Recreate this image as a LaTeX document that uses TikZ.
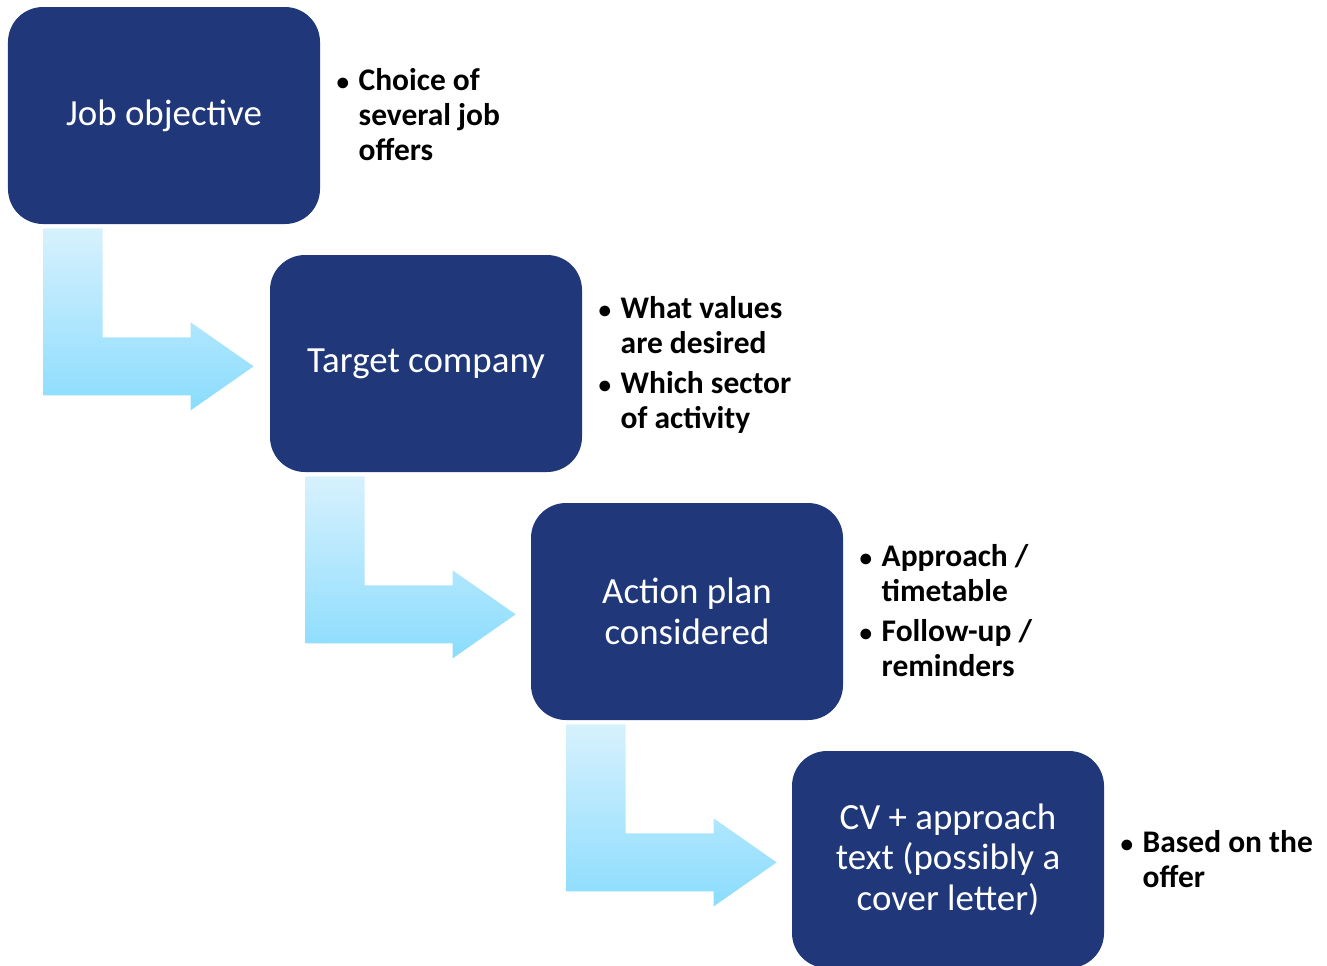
\documentclass[tikz,border=0pt]{standalone}
\usepackage{fontspec}
\setmainfont{Carlito}
\usetikzlibrary{positioning}
\definecolor{stageblue}{RGB}{32,56,121}
\definecolor{arrowtop}{RGB}{215,241,253}
\definecolor{arrowbottom}{RGB}{138,220,253}
\newcommand{\notedot}{\scalebox{0.8}{\textbullet}}

\begin{document}
\begin{tikzpicture}
    \tikzstyle{stage} = [shape=rectangle, rounded corners=0.7cm, fill=stageblue, text=white, align=center, minimum width=6.24cm, minimum height=4.34cm, font=\fontsize{21}{23.2}\selectfont]
    \tikzstyle{notes} = [inner sep=0, anchor=west, yshift=-0.06cm, font=\bfseries\fontsize{17.9}{19.9}\selectfont]

    \useasboundingbox (0, 0) rectangle (26.54, -19.30);

    \node[stage] (job)    at (3.28,  -2.31)  {Job objective};
    \node[stage] (target) at (8.52,  -7.27)  {Target company};
    \node[stage] (action) at (13.74, -12.23) {Action plan\\considered};
    \node[stage] (cv)     at (18.96, -17.19) {CV + approach\\text (possibly a\\cover letter)};

        \node[notes, right=0.32cm of job] (jobnotes) {\begin{tabular}{@{}p{0.44cm}@{}l@{}}
            \notedot & Choice of\\ & several job\\ & offers\end{tabular}};
        \node[notes, right=0.32cm of target] (targetnotes) {\begin{tabular}{@{}p{0.44cm}@{}l@{}}
            \notedot & What values\\ & are desired\\[0.12cm] \notedot & Which sector\\ & of activity\end{tabular}};
        \node[notes, right=0.32cm of action] (actionnotes) {\begin{tabular}{@{}p{0.44cm}@{}l@{}}
            \notedot & Approach /\\ & timetable\\[0.12cm] \notedot & Follow-up /\\ & reminders\end{tabular}};
        \node[notes, right=0.32cm of cv] (cvnotes) {\begin{tabular}{@{}p{0.44cm}@{}l@{}}
            \notedot & Based on the\\ & offer\end{tabular}};

    % bent arrows from one stage down to the next
    \foreach \from in {job, target, action} {
        \begin{scope}[shift={(\from.south west)}]
            \shade[top color=arrowtop, bottom color=arrowbottom] (0.72, -0.08) -- (1.90, -0.08) -- (1.90, -2.26) -- (3.66, -2.26) -- (3.66, -1.96)
                -- (4.92, -2.84) -- (3.66, -3.72) -- (3.66, -3.42) -- (0.72, -3.42) -- cycle;
        \end{scope}
    }
\end{tikzpicture}
\end{document}
